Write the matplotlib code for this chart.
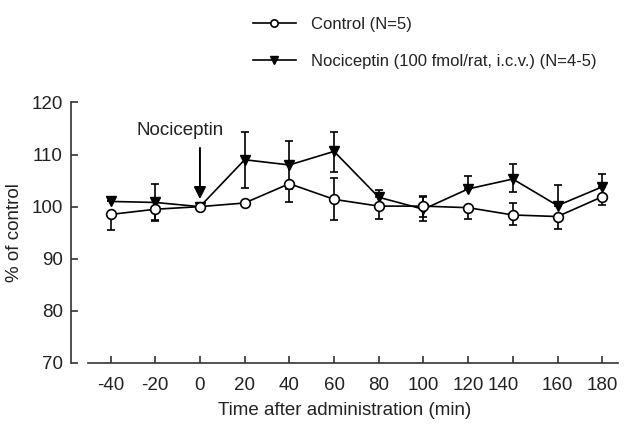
import matplotlib
matplotlib.use('Agg')
import matplotlib.pyplot as plt
import matplotlib.transforms as mtransforms
import numpy as np

plt.rcParams['font.family'] = ['Liberation Sans', 'DejaVu Sans']
plt.rcParams['axes.unicode_minus'] = False

# data
time = [-40, -20, 0, 20, 40, 60, 80, 100, 120, 140, 160, 180]
control = [98.5, 99.5, 100.0, 100.7, 104.4, 101.4, 100.1, 100.1, 99.8, 98.4, 98.1, 101.9]
control_lo = [3.0, 2.0, 0, 0, 3.5, 4.0, 2.5, 2.0, 2.2, 2.0, 2.3, 1.6]
control_hi = [0, 0, 0, 0, 0, 4.0, 0, 2.0, 0, 2.3, 0, 0]
noci = [101.0, 100.8, 100.0, 109.0, 108.0, 110.6, 101.8, 99.5, 103.4, 105.3, 100.2, 103.8]
noci_lo = [0, 3.5, 0, 5.5, 4.6, 3.9, 0, 2.3, 0, 2.4, 0, 0]
noci_hi = [0, 3.5, 0, 5.3, 4.6, 3.8, 1.4, 2.3, 2.4, 2.8, 4.0, 2.4]
yticks = [70, 80, 90, 100, 110, 120]

fig = plt.figure(figsize=(6.25, 4.25), dpi=100)
ax = fig.add_axes([0.1136, 0.146, 0.875, 0.613])

ax.errorbar(time, noci, yerr=[noci_lo, noci_hi], fmt='none', ecolor='black',
            elinewidth=1.2, capsize=3, capthick=1.2, zorder=2)
ax.errorbar(time, control, yerr=[control_lo, control_hi], fmt='none', ecolor='black',
            elinewidth=1.2, capsize=3, capthick=1.2, zorder=2)
l2, = ax.plot(time, noci, color='black', lw=1.2, marker='v', ms=7,
              mfc='black', mec='black', zorder=3)
l1, = ax.plot(time, control, color='black', lw=1.2, marker='o', ms=7,
              mfc='white', mec='black', mew=1.2, zorder=4)

ax.annotate('', xy=(0, 100.9), xytext=(0, 111.8),
            arrowprops=dict(arrowstyle='-|>', color='black', lw=1.4, mutation_scale=18))
ax.text(-9, 114.7, 'Nociceptin', ha='center', va='center', fontsize=13.5, color='#222222')

ax.set_xlim(-57.7, 187)
ax.set_ylim(70, 120)
ax.set_xticks(time)
ax.set_yticks(yticks)
ax.spines['top'].set_visible(False)
ax.spines['right'].set_visible(False)
ax.spines['bottom'].set_bounds(-50, 187)
for s in ['left', 'bottom']:
    ax.spines[s].set_linewidth(1.2)
    ax.spines[s].set_color('#333333')
ax.tick_params(direction='in', length=5, width=1.2, labelsize=13.5, colors='#333333',
               labelcolor='#222222')
ax.tick_params(axis='x', pad=10)
ax.tick_params(axis='y', pad=6)
# the 140 label sits a little left of its tick in the original
lab140 = ax.get_xticklabels()[9]
lab140.set_transform(lab140.get_transform() +
                     mtransforms.ScaledTranslation(-10 / 100, 0, fig.dpi_scale_trans))
ax.set_xlabel('Time after administration (min)', fontsize=13.5, color='#222222', labelpad=6)
ax.set_ylabel('% of control', fontsize=13.5, color='#222222', labelpad=6)

fig.legend([l1, l2], ['Control (N=5)', 'Nociceptin (100 fmol/rat, i.c.v.) (N=4-5)'],
           loc='upper left', bbox_to_anchor=(0.38, 0.995), frameon=False,
           handlelength=2.6, handletextpad=0.9, fontsize=12, labelspacing=1.3,
           markerscale=0.75, labelcolor='#222222')

fig.savefig('out.png', dpi=100)
